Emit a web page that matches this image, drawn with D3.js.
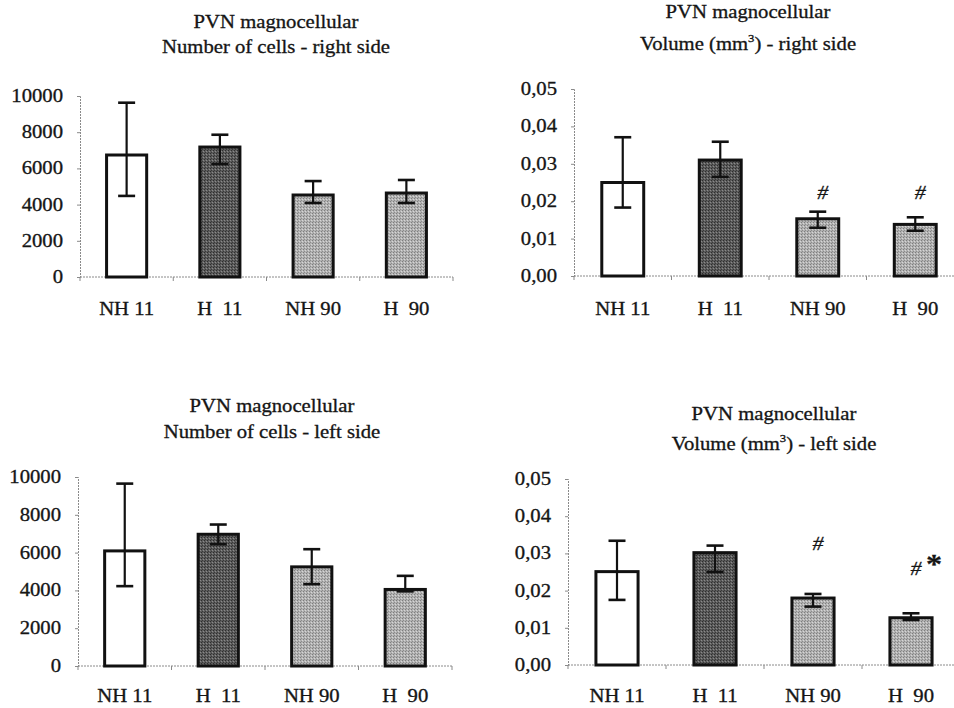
<!DOCTYPE html>
<html>
<head>
<meta charset="utf-8">
<script src="https://cdn.jsdelivr.net/npm/d3@7"></script>
<style>
  html, body { margin: 0; padding: 0; background: #fff; }
</style>
</head>
<body>
<svg id="chart" width="954" height="708"></svg>
<script>
// Groups shown on every panel
const categories = ["NH 11", "H  11", "NH 90", "H  90"];
const barFills = ["#ffffff", "url(#stippleDark)", "url(#stippleLight)", "url(#stippleLight)"];

// Number of cells, right side: mean and error-bar ends
const cellsRightMean = [6740, 7180, 4530, 4640];
const cellsRightLow  = [4480, 6240, 4090, 4090];
const cellsRightHigh = [9630, 7860, 5300, 5360];

// Volume (mm3), right side
const volRightMean = [0.0250, 0.0310, 0.0153, 0.0138];
const volRightLow  = [0.0183, 0.0265, 0.0129, 0.0121];
const volRightHigh = [0.0371, 0.0359, 0.0172, 0.0157];
const volRightMarks = ["", "", "#", "#"];
const volRightMarkAt = [null, null, 0.0225, 0.0225];

// Number of cells, left side
const cellsLeftMean = [6090, 6970, 5245, 4050];
const cellsLeftLow  = [4225, 6445, 4330, 3950];
const cellsLeftHigh = [9650, 7485, 6180, 4770];

// Volume (mm3), left side
const volLeftMean = [0.0251, 0.0302, 0.0180, 0.0127];
const volLeftLow  = [0.0175, 0.0250, 0.0157, 0.0121];
const volLeftHigh = [0.0334, 0.0321, 0.0191, 0.0139];
const volLeftMarks = ["", "", "#", "#"];
const volLeftMarkAt = [null, null, 0.0328, 0.0260];
const volLeftStarAt = [null, null, null, 0.0283];

// Tick values
const cellTicks = [0, 2000, 4000, 6000, 8000, 10000];
const volTicks = [0, 0.01, 0.02, 0.03, 0.04, 0.05];

const fmtCells = d3.format("d");
const fmtVol = d => d3.format(".2f")(d).replace(".", ",");

const FONT = "'Liberation Serif', 'DejaVu Serif', serif";
const svg = d3.select("#chart");
const SX = 1.15; // horizontal stretch of the lettering

// Fine stipple fills for the grey bars
const defs = svg.append("defs");
function stipple(id, base, dots) {
  const p = defs.append("pattern").attr("id", id)
    .attr("patternUnits", "userSpaceOnUse").attr("width", 3).attr("height", 3);
  p.append("rect").attr("width", 3).attr("height", 3).attr("fill", base);
  dots.forEach(([dx, dy, c]) => {
    p.append("rect").attr("x", dx).attr("y", dy).attr("width", 1).attr("height", 1).attr("fill", c);
  });
}
stipple("stippleDark", "#5c5c5c", [[0, 0, "#2e2e2e"], [2, 1, "#8a8a8a"], [1, 2, "#3a3a3a"]]);
stipple("stippleLight", "#b2b2b2", [[0, 0, "#7e7e7e"], [2, 1, "#d6d6d6"], [1, 2, "#8c8c8c"]]);

function label(g, x, y, anchor, size) {
  return g.append("text")
    .attr("transform", `translate(${x},${y}) scale(${SX},1)`)
    .attr("text-anchor", anchor)
    .attr("font-family", FONT)
    .attr("font-size", size)
    .attr("fill", "#151515")
    .attr("stroke", "#151515")
    .attr("stroke-width", 0.3)
    .style("white-space", "pre");
}

function panel(cfg) {
  const g = svg.append("g");
  const x = d3.scaleBand().domain(categories)
    .range([cfg.x0, cfg.x1]).paddingInner(0.57).paddingOuter(0.285);
  const y = d3.scaleLinear().domain([0, cfg.max]).range([cfg.yBase, cfg.yTop]);

  // title lines
  label(g, cfg.titleX, cfg.titleY1, "middle", 18).text("PVN magnocellular");
  const t2 = label(g, cfg.titleX, cfg.titleY2, "middle", 18);
  if (cfg.vol) {
    t2.append("tspan").text("Volume (mm");
    t2.append("tspan").attr("dy", -8).attr("font-size", 11).text("3");
    t2.append("tspan").attr("dy", 8).text(") - " + cfg.side + " side");
  } else {
    t2.text("Number of cells - " + cfg.side + " side");
  }

  // y axis: thin grey line with small outward ticks
  const yAxis = d3.axisLeft(y).tickValues(cfg.ticks).tickSize(3).tickFormat("");
  const ya = g.append("g").attr("transform", `translate(${cfg.x0},0)`).call(yAxis);
  ya.select(".domain").attr("stroke", "#8a8a8a").attr("stroke-dasharray", "2,1");
  ya.selectAll(".tick line").attr("stroke", "#8a8a8a");
  cfg.ticks.forEach(t => {
    label(g, cfg.x0 - 17, y(t) + 6, "end", 18).text(cfg.fmt(t));
  });

  // x axis with ticks on the group boundaries
  const xa = g.append("g");
  xa.append("line")
    .attr("x1", cfg.x0).attr("x2", cfg.x1)
    .attr("y1", y(0)).attr("y2", y(0))
    .attr("stroke", "#8a8a8a").attr("stroke-dasharray", "2,1");
  const step = x.step();
  d3.range(categories.length + 1).forEach(i => {
    xa.append("line")
      .attr("x1", cfg.x0 + i * step).attr("x2", cfg.x0 + i * step)
      .attr("y1", y(0)).attr("y2", y(0) + 4)
      .attr("stroke", "#8a8a8a");
  });
  categories.forEach(c => {
    label(g, x(c) + x.bandwidth() / 2, cfg.labelY, "middle", 18).text(c);
  });

  // bars
  g.selectAll("rect.bar").data(categories).join("rect")
    .attr("class", "bar")
    .attr("x", c => x(c))
    .attr("width", x.bandwidth())
    .attr("y", (c, i) => y(cfg.mean[i]))
    .attr("height", (c, i) => y(0) - y(cfg.mean[i]))
    .attr("fill", (c, i) => barFills[i])
    .attr("stroke", "#111")
    .attr("stroke-width", 3);

  // error bars
  const cap = 8.5;
  categories.forEach((c, i) => {
    const cx = x(c) + x.bandwidth() / 2;
    g.append("line").attr("x1", cx).attr("x2", cx)
      .attr("y1", y(cfg.low[i])).attr("y2", y(cfg.high[i]))
      .attr("stroke", "#111").attr("stroke-width", 2.2);
    [cfg.low[i], cfg.high[i]].forEach(v => {
      g.append("line").attr("x1", cx - cap).attr("x2", cx + cap)
        .attr("y1", y(v)).attr("y2", y(v))
        .attr("stroke", "#111").attr("stroke-width", 2.6);
    });
  });

  // significance marks
  if (cfg.marks) {
    categories.forEach((c, i) => {
      const cx = x(c) + x.bandwidth() / 2;
      if (cfg.marks[i]) {
        label(g, cx + 5, y(cfg.markAt[i]) + 7, "middle", 19)
          .attr("font-style", "italic").text(cfg.marks[i]);
      }
      if (cfg.starAt && cfg.starAt[i] != null) {
        label(g, cx + 23, y(cfg.starAt[i]) + 13, "middle", 28)
          .attr("font-weight", "bold").text("*");
      }
    });
  }
}

panel({ x0: 80, x1: 453, yBase: 277, yTop: 96, max: 10000, ticks: cellTicks, fmt: fmtCells,
  titleX: 276, titleY1: 28, titleY2: 53, labelY: 315, side: "right", vol: false,
  mean: cellsRightMean, low: cellsRightLow, high: cellsRightHigh });

panel({ x0: 574, x1: 964, yBase: 276, yTop: 89, max: 0.05, ticks: volTicks, fmt: fmtVol,
  titleX: 748, titleY1: 18, titleY2: 50, labelY: 315, side: "right", vol: true,
  mean: volRightMean, low: volRightLow, high: volRightHigh,
  marks: volRightMarks, markAt: volRightMarkAt });

panel({ x0: 78, x1: 452, yBase: 666, yTop: 477, max: 10000, ticks: cellTicks, fmt: fmtCells,
  titleX: 272, titleY1: 412, titleY2: 438, labelY: 702, side: "left", vol: false,
  mean: cellsLeftMean, low: cellsLeftLow, high: cellsLeftHigh });

panel({ x0: 568, x1: 960, yBase: 665, yTop: 479, max: 0.05, ticks: volTicks, fmt: fmtVol,
  titleX: 774, titleY1: 420, titleY2: 450, labelY: 702, side: "left", vol: true,
  mean: volLeftMean, low: volLeftLow, high: volLeftHigh,
  marks: volLeftMarks, markAt: volLeftMarkAt, starAt: volLeftStarAt });
</script>
</body>
</html>
